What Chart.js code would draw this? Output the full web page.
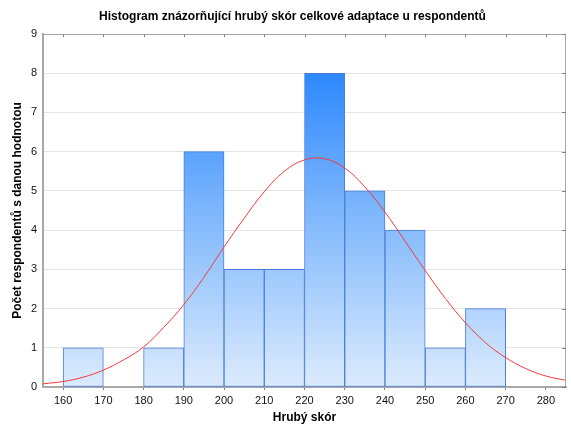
<!DOCTYPE html>
<html>
<head>
<meta charset="utf-8">
<script src="https://cdn.jsdelivr.net/npm/chart.js@4/dist/chart.umd.min.js"></script>
<style>
  html, body { margin: 0; padding: 0; background: #fff; }
  #wrap { width: 571px; height: 427px; }
</style>
</head>
<body>
<div id="wrap"><canvas id="hist"></canvas></div>
<script>
// bins (centre of each 10-point class) and counts
var binCenters = [165, 175, 185, 195, 205, 215, 225, 235, 245, 255, 265, 275];
var counts = [1, 0, 1, 6, 3, 3, 8, 5, 4, 1, 2, 0];
// red normal curve
var curveX = [155, 160, 165, 170, 175, 180, 185, 190, 195, 200, 205, 210, 215, 220, 225, 230, 235, 240, 245, 250, 255, 260, 265, 270, 275, 280, 285];
var curveY = [0.08, 0.14, 0.25, 0.43, 0.69, 1.02, 1.52, 2.1, 2.8, 3.57, 4.3, 4.98, 5.5, 5.79, 5.82, 5.58, 5.1, 4.46, 3.72, 2.97, 2.26, 1.64, 1.13, 0.75, 0.47, 0.28, 0.17];
var xTicks = [160, 170, 180, 190, 200, 210, 220, 230, 240, 250, 260, 270, 280];
var yTicks = [0, 1, 2, 3, 4, 5, 6, 7, 8, 9];

var FONT = "'Liberation Sans', Arial, sans-serif";

function barFill(c) {
    var area = c.chart.chartArea;
    if (!area) return '#8fc0fc';
    var g = c.chart.ctx.createLinearGradient(0, area.top, 0, area.bottom);
    g.addColorStop(0, '#167bff');
    g.addColorStop(0.5, '#7db6fc');
    g.addColorStop(1, '#dcebfd');
    return g;
}

// top / right frame with small inward ticks
var framePlugin = {
    id: 'frame',
    afterDatasetsDraw: function (chart) {
        var a = chart.chartArea, ctx = chart.ctx;
        var xs = chart.scales.x, ys = chart.scales.y;
        ctx.save();
        ctx.strokeStyle = '#a8a8a8';
        ctx.lineWidth = 1;
        ctx.beginPath();
        ctx.moveTo(a.left, a.top + 0.5);
        ctx.lineTo(a.right - 0.5, a.top + 0.5);
        ctx.lineTo(a.right - 0.5, a.bottom);
        ctx.stroke();
        ctx.strokeStyle = '#808080';
        ctx.beginPath();
        xTicks.forEach(function (v) {
            var px = Math.round(xs.getPixelForValue(v)) + 0.5;
            ctx.moveTo(px, a.top);
            ctx.lineTo(px, a.top + 3);
        });
        yTicks.forEach(function (v) {
            var py = Math.round(ys.getPixelForValue(v)) + 0.5;
            ctx.moveTo(a.right, py);
            ctx.lineTo(a.right - 4, py);
        });
        ctx.stroke();
        ctx.restore();
    },
    afterLayout: function (chart) {
        // title sits a bit right of the canvas centre
        chart.titleBlock.left += 19;
    }
};

new Chart(document.getElementById('hist'), {
    type: 'bar',
    data: {
        datasets: [{
            type: 'line',
            data: curveX.map(function (x, i) { return { x: x, y: curveY[i] }; }),
            borderColor: '#f03a3a',
            borderWidth: 1,
            pointRadius: 0,
            tension: 0.4,
            fill: false,
            order: 0
        }, {
            type: 'bar',
            data: binCenters.map(function (x, i) { return { x: x, y: counts[i] }; }),
            backgroundColor: barFill,
            borderColor: '#4a7fdc',
            borderWidth: 1,
            borderSkipped: false,
            barPercentage: 1,
            categoryPercentage: 1,
            order: 1
        }]
    },
    options: {
        responsive: true,
        maintainAspectRatio: false,
        animation: false,
        layout: { padding: { left: 0, right: 5, top: 0, bottom: 0 } },
        plugins: {
            legend: { display: false },
            tooltip: { enabled: false },
            title: {
                display: true,
                text: 'Histogram znázorňující hrubý skór celkové adaptace u respondentů',
                color: '#000',
                font: { family: FONT, size: 12, weight: 'bold' },
                padding: { top: 9.5, bottom: 10.1 }
            }
        },
        scales: {
            x: {
                type: 'linear',
                offset: false,
                min: 155,
                max: 285,
                afterBuildTicks: function (s) { s.ticks = xTicks.map(function (v) { return { value: v }; }); },
                afterFit: function (s) { s.height = 40; },
                grid: { offset: false, drawOnChartArea: false, drawTicks: true, tickLength: 3, color: '#808080' },
                border: { color: '#a8a8a8', width: 2 },
                ticks: { color: '#111', font: { family: FONT, size: 11 }, padding: 4, maxRotation: 0, autoSkip: false },
                title: {
                    display: true,
                    text: 'Hrubý skór',
                    color: '#000',
                    font: { family: FONT, size: 12, weight: 'bold' },
                    padding: { top: 0, bottom: 2 }
                }
            },
            y: {
                min: 0,
                max: 9,
                afterBuildTicks: function (s) { s.ticks = yTicks.map(function (v) { return { value: v }; }); },
                afterFit: function (s) { s.width = 43; },
                grid: { color: '#e4e4e4', drawTicks: false },
                border: { color: '#a8a8a8', width: 2 },
                ticks: { color: '#111', font: { family: FONT, size: 11 }, padding: 6 },
                title: {
                    display: true,
                    text: 'Počet respondentů s danou hodnotou',
                    color: '#000',
                    font: { family: FONT, size: 12, weight: 'bold' },
                    padding: { top: 10, bottom: 0 }
                }
            }
        }
    },
    plugins: [framePlugin]
});
</script>
</body>
</html>
